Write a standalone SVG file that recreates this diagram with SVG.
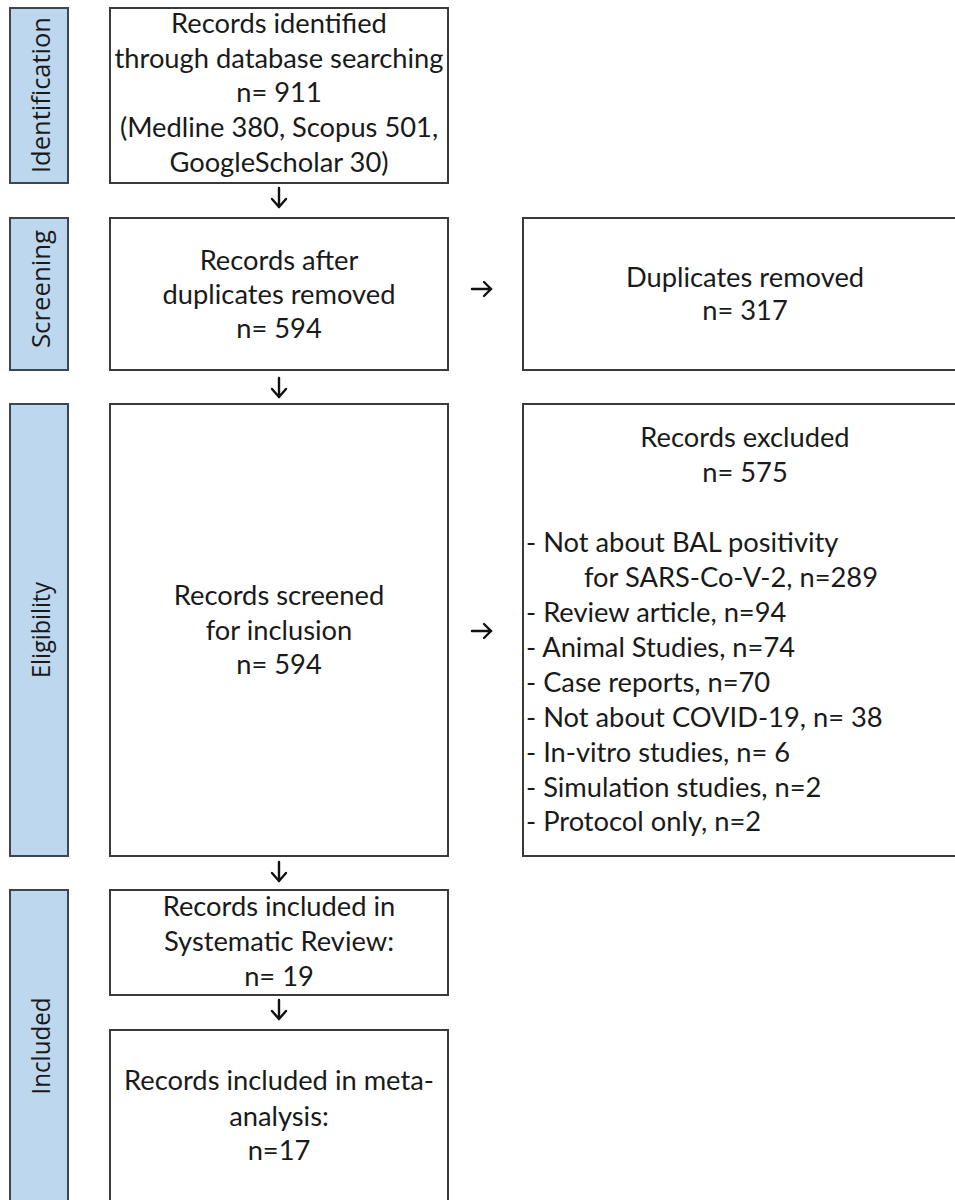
<svg xmlns="http://www.w3.org/2000/svg" width="955" height="1200" viewBox="0 0 955 1200">
<style>
.lbl{fill:#bdd7ee;stroke:#3b4650;stroke-width:2}
.box{fill:#fff;stroke:#3a3a3a;stroke-width:2}
.t{font-family:Lato,"Liberation Sans",sans-serif;font-size:27.3px;fill:#1a1a1a}
.c{text-anchor:middle}
.side{font-family:"Open Sans","Liberation Sans",sans-serif;font-size:25px;fill:#1a1a1a;text-anchor:middle;dominant-baseline:central}
.conn{stroke:#111;stroke-width:2.4;fill:none;stroke-linecap:round;stroke-linejoin:miter}
</style>
<rect width="955" height="1200" fill="#fff"/>

<g id="stage-identification">
<rect class="lbl" x="10" y="8" width="58" height="175"/>
<text class="side" transform="translate(40,95) rotate(-90)" textLength="156" lengthAdjust="spacingAndGlyphs">Identification</text>
</g>
<g id="stage-screening">
<rect class="lbl" x="10" y="218" width="58" height="152"/>
<text class="side" transform="translate(40,289) rotate(-90)" textLength="118" lengthAdjust="spacingAndGlyphs">Screening</text>
</g>
<g id="stage-eligibility">
<rect class="lbl" x="10" y="404" width="58" height="452"/>
<text class="side" transform="translate(40,630) rotate(-90)" textLength="96" lengthAdjust="spacingAndGlyphs">Eligibility</text>
</g>
<g id="stage-included">
<rect class="lbl" x="10" y="890" width="58" height="320"/>
<text class="side" transform="translate(40,1046) rotate(-90)" textLength="97" lengthAdjust="spacingAndGlyphs">Included</text>
</g>

<g id="identified">
<rect class="box" x="110" y="8" width="338" height="175"/>
<text class="t c" x="279" y="33">Records identified</text>
<text class="t c" x="279" y="68">through database searching</text>
<text class="t c" x="279" y="102">n= 911</text>
<text class="t c" x="279" y="137">(Medline 380, Scopus 501,</text>
<text class="t c" x="279" y="172">GoogleScholar 30)</text>
</g>

<g id="after-duplicates">
<rect class="box" x="110" y="218" width="338" height="152"/>
<text class="t c" x="279" y="270">Records after</text>
<text class="t c" x="279" y="304">duplicates removed</text>
<text class="t c" x="279" y="338">n= 594</text>
</g>

<g id="duplicates-removed">
<rect class="box" x="523" y="218" width="445" height="152"/>
<text class="t c" x="745" y="287">Duplicates removed</text>
<text class="t c" x="745" y="320">n= 317</text>
</g>

<g id="screened">
<rect class="box" x="110" y="404" width="338" height="452"/>
<text class="t c" x="279" y="605">Records screened</text>
<text class="t c" x="279" y="640">for inclusion</text>
<text class="t c" x="279" y="674">n= 594</text>
</g>

<g id="excluded">
<rect class="box" x="523" y="404" width="445" height="452"/>
<text class="t c" x="745" y="447">Records excluded</text>
<text class="t c" x="745" y="482">n= 575</text>
<text class="t" x="526" y="552">- Not about BAL positivity</text>
<text class="t" x="584" y="587">for SARS-Co-V-2, n=289</text>
<text class="t" x="526" y="622">- Review article, n=94</text>
<text class="t" x="526" y="657">- Animal Studies, n=74</text>
<text class="t" x="526" y="692">- Case reports, n=70</text>
<text class="t" x="526" y="727">- Not about COVID-19, n= 38</text>
<text class="t" x="526" y="762">- In-vitro studies, n= 6</text>
<text class="t" x="526" y="797">- Simulation studies, n=2</text>
<text class="t" x="526" y="831">- Protocol only, n=2</text>
</g>

<g id="included-review">
<rect class="box" x="110" y="890" width="338" height="105"/>
<text class="t c" x="279" y="916">Records included in</text>
<text class="t c" x="279" y="951">Systematic Review:</text>
<text class="t c" x="279" y="986">n= 19</text>
</g>

<g id="included-meta">
<rect class="box" x="110" y="1030" width="338" height="180"/>
<text class="t c" x="279" y="1090">Records included in meta-</text>
<text class="t c" x="279" y="1126">analysis:</text>
<text class="t c" x="279" y="1160">n=17</text>
</g>

<g id="connectors">
<path class="conn" d="M279,188 V207 M272,199 L279,207 L286,199"/>
<path class="conn" d="M279,378 V397 M272,389 L279,397 L286,389"/>
<path class="conn" d="M279,862 V881 M272,873 L279,881 L286,873"/>
<path class="conn" d="M279,1000 V1019 M272,1011 L279,1019 L286,1011"/>
<path class="conn" d="M472,289 H491 M484,282 L491,289 L484,296"/>
<path class="conn" d="M472,631 H491 M484,624 L491,631 L484,638"/>
</g>
</svg>
